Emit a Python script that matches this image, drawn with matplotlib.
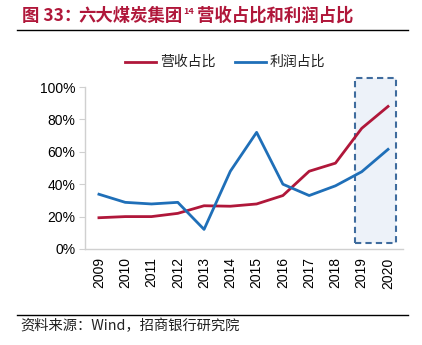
import matplotlib.pyplot as plt
from matplotlib.patches import Rectangle
from matplotlib.lines import Line2D

plt.rcParams['font.family'] = ['Liberation Sans', 'Noto Sans CJK SC', 'DejaVu Sans']

# data
years = ['2009', '2010', '2011', '2012', '2013', '2014', '2015', '2016',
         '2017', '2018', '2019', '2020']
revenue_share = [19.3, 20.0, 20.0, 22.0, 26.7, 26.4, 27.8, 33.0, 48.0, 53.0, 74.5, 88.0]
profit_share = [33.8, 28.8, 27.8, 28.8, 12.1, 48.0, 72.0, 40.0, 33.0, 39.0, 47.7, 61.5]
series_names = ['营收占比', '利润占比']
yticks = [0, 20, 40, 60, 80, 100]

red = '#B0173A'
blue = '#1F6FB8'
cjk = ['Noto Sans CJK SC', 'DejaVu Sans']
W, H = 422, 345

def fx(px):
    return px / W

def fy(py):
    return 1 - py / H

fig = plt.figure(figsize=(4.22, 3.45), dpi=100)
ax = fig.add_axes([fx(85), fy(249), 318 / W, 162 / H])

x = list(range(len(years)))
ax.plot(x, revenue_share, color=red, lw=2, zorder=3)
ax.plot(x, profit_share, color=blue, lw=2, zorder=3)

# forecast box
box = Rectangle((9.75, 3.9), 1.55, 101.5, facecolor='#EDF2F9', edgecolor='#3F6C9E',
                lw=1.5, ls=(0, (3, 2)), clip_on=False, zorder=1)
ax.add_patch(box)

ax.set_xlim(-0.53, 11.57)
ax.set_ylim(0, 100)
ax.set_xticks(x)
ax.set_xticklabels(years, rotation=90, fontsize=10)
ax.set_yticks(yticks)
ax.set_yticklabels([f'{v}%' for v in yticks], fontsize=10)
ax.tick_params(axis='x', length=0, pad=6)
ax.tick_params(axis='y', length=4, color='#D0D0D0', pad=3)
for s in ['top', 'right']:
    ax.spines[s].set_visible(False)
for s in ['left', 'bottom']:
    ax.spines[s].set_color('#D0D0D0')
    ax.spines[s].set_linewidth(1)

# legend (drawn by hand to match spacing)
for name, c, x0 in zip(series_names, [red, blue], [125, 235]):
    fig.add_artist(Line2D([fx(x0), fx(x0 + 31)], [fy(62)] * 2, color=c, lw=2))
    fig.text(fx(x0 + 35), fy(62), name, fontsize=10, family=cjk, va='center',
             color='#222222')

# title
fig.text(fx(22), fy(16), '图 33：', color=red, fontsize=12.5,
         fontweight='bold', family=cjk, va='center')
fig.text(fx(78), fy(16), '六大煤炭集团', color=red, fontsize=12.5,
         fontweight='bold', family=cjk, va='center')
fig.text(fx(183), fy(12), '14', color=red, fontsize=6.5, fontweight='bold',
         family=cjk, va='center')
fig.text(fx(197), fy(16), '营收占比和利润占比', color=red, fontsize=12.5,
         fontweight='bold', family=cjk, va='center')
fig.add_artist(Line2D([fx(17), fx(408)], [fy(30)] * 2, color='black', lw=1))

# footer
fig.add_artist(Line2D([fx(17), fx(408)], [fy(315)] * 2, color='black', lw=1))
fig.text(fx(20), fy(326), '资料来源：Wind，招商银行研究院', fontsize=10.3,
         family=cjk, va='center', color='#222222')

fig.savefig('out.png', dpi=100)
